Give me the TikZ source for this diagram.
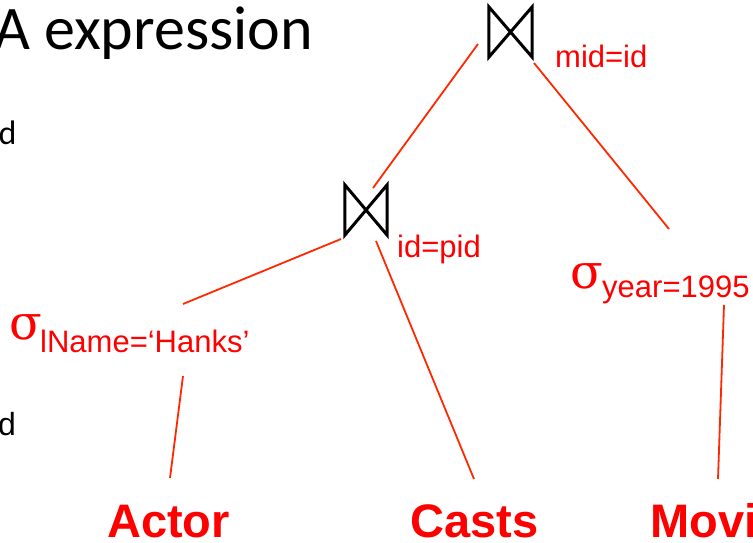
\documentclass[tikz,border=0pt]{standalone}
\usepackage{fontspec}
\setmainfont{Liberation Sans}
\newfontfamily\titlefont{Carlito}
\newfontfamily\greekfont{DejaVu Serif}
\begin{document}
\begin{tikzpicture}[x=1pt,y=-1pt,
  lbl/.style={inner sep=0pt,anchor=base west,text=red,font=\fontsize{31}{31}\selectfont},
  sig/.style={inner sep=0pt,anchor=base west,text=red,font=\greekfont\fontsize{48}{48}\selectfont},
  rel/.style={inner sep=0pt,anchor=base west,text=red,font=\bfseries\fontsize{47}{47}\selectfont},
  joinbox/.style={inner sep=0pt,minimum width=43pt,minimum height=50pt},
  bowtie/.style={draw=black,line width=3pt,line join=miter},
  edge/.style={draw={rgb,255:red,255;green,40;blue,0},line width=1.8pt}]
\useasboundingbox (0,0) rectangle (753,543);
\clip (0,0) rectangle (753,543);
% left slide text
\node[inner sep=0pt,anchor=base west,font=\titlefont\fontsize{62}{62}\selectfont] (title) at (-6,50) {A expression};
\node[inner sep=0pt,anchor=base west,font=\titlefont\fontsize{34}{34}\selectfont] (d1) at (-1.5,144) {d};
\node[inner sep=0pt,anchor=base west,font=\fontsize{32}{32}\selectfont] (d2) at (-2,435) {d};
% join operators
\node[joinbox] (j1) at (510.5,32) {};
\draw[bowtie] (j1.north west) -- (j1.south west) -- (j1.north east) -- (j1.south east) -- cycle;
\node[joinbox,minimum width=42pt] (j2) at (366,210) {};
\draw[bowtie] (j2.north west) -- (j2.south west) -- (j2.north east) -- (j2.south east) -- cycle;
\node[lbl] (c1) at (555,68) {mid=id};
\node[lbl] (c2) at (397,257) {id=pid};
% selections
\node[sig] (s1) at (9,339) {σ};
\node[lbl] (s1sub) at (40,352) {lName=‘Hanks’};
\node[sig] (s2) at (570,288) {σ};
\node[lbl] (s2sub) at (602,297) {year=1995};
% relations
\node[rel] (actor) at (107,537) {Actor};
\node[rel] (casts) at (410,537) {Casts};
\node[rel] (movie) at (650,537) {Movie};
% connector end points
\coordinate (a1) at (478,44);
\coordinate (a2) at (373,188);
\coordinate (b1) at (534,63);
\coordinate (b2) at (669,229);
\coordinate (c1a) at (341,239);
\coordinate (c1b) at (183,304);
\coordinate (d1a) at (376,241);
\coordinate (d1b) at (474,479);
\coordinate (e1a) at (183,376);
\coordinate (e1b) at (170,478);
\coordinate (f1a) at (724,305);
\coordinate (f1b) at (718,479);
\draw[edge] (a1) -- (a2);
\draw[edge] (b1) -- (b2);
\draw[edge] (c1a) -- (c1b);
\draw[edge] (d1a) -- (d1b);
\draw[edge] (e1a) -- (e1b);
\draw[edge] (f1a) -- (f1b);
\end{tikzpicture}
\end{document}
